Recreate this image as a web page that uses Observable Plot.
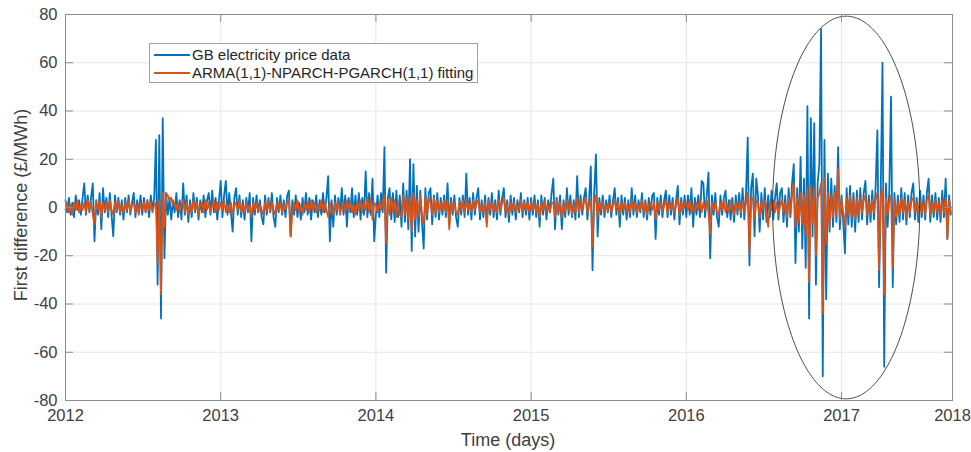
<!DOCTYPE html>
<html>
<head>
<meta charset="utf-8">
<script src="https://cdn.jsdelivr.net/npm/d3@7"></script>
<script src="https://cdn.jsdelivr.net/npm/@observablehq/plot@0.6"></script>
<style>
  html, body { margin: 0; padding: 0; background: #fff; }
  #wrap { position: relative; width: 971px; height: 452px; font-family: "Liberation Sans", Arial, sans-serif; color: #404040; }
  #wrap svg { position: absolute; left: 0; top: 0; }
  .legend { position: absolute; left: 149px; top: 43px; width: 327px; height: 38px; border: 1px solid #a0a0a0; background: #fff; }
  .legend .row { position: absolute; left: 0; height: 18px; width: 100%; }
  .legend .sw { position: absolute; left: 4px; width: 36px; height: 2px; top: 8px; }
  .legend .lab { position: absolute; left: 42px; top: 0; font-size: 15px; line-height: 18px; white-space: nowrap; color: #262626; }
  .ylab { position: absolute; left: 21px; top: 205px; transform: translate(-50%, -50%) rotate(-90deg); font-size: 18px; white-space: nowrap; }
  .xlab { position: absolute; left: 508px; top: 440px; transform: translate(-50%, -50%); font-size: 18px; white-space: nowrap; }
</style>
</head>
<body>
<div id="wrap"></div>
<script>
// ---- tick labels / axes ----
const xTickDays = [0, 365, 730, 1095, 1460, 1825, 2086];
const xTickLabels = ["2012", "2013", "2014", "2015", "2016", "2017", "2018"];
const yTicks = [-80, -60, -40, -20, 0, 20, 40, 60, 80];
const seriesNames = ["GB electricity price data", "ARMA(1,1)-NPARCH-PGARCH(1,1) fitting"];

// segment start days and lengths (one segment per labelled year)
const segStarts = [0, 365, 730, 1095, 1460, 1825];
const segLengths = [365, 365, 365, 365, 365, 261];

// ---- GB electricity price data (first difference, £/MWh), ~4-day samples ----
const blueY2012 = [3,-2,4,-3,2,-4,5,-1,3,-3,4, 10, -3,5,-2,4, 10,-14, 3,-3,6, -9,8, -2,4,-4, 6,-3,-12,
  5,-2,4,-3,3,-5,4,-2,5,-3,2, 6, -4,3,-2,5,-3,4,-2,3,-4,5,-1,4, 28,-32,30,-46,37,-21,
  6,-3,4,-5,3,-2,6,-4,3,-5, 10, -3,5,-6,3,-4,6,-2,4,-5,3,-2,5,-4,3, 6, -3,7,-2,4,-5,3];
const blueY2013 = [11,-4,5,11,-3,6,-2,-10,4,8, -3,5,-4,3,-5,4,-2, 6,-14, 4,-3,5,-2,3,-4, -7, 5,-3,4,-2,6,-4, -8,
  4,-2,5,-3,3,-4,5, 7,-12, 3,-3,5,-4,2,-5,4,-2,6,-3,4,-5,3,-2,5,-4,3,-3,6,-2,4, 13,-14, 3,-8,
  5,-3,4,-2, 8, -3,5, -8, 4,-2, 8, -4,5,-3,6,-5,4,-3, 15, -4,6,-3, 12,-14];
const blueY2014 = [-3,5,-4,6,-2, 25,-27, 4,8,-5,6,-6,7,-4,5, -8,10,-6,7,-9,
  20,-18,18,-12,9,-10,7,-6,-17,8, -5,6,8,-7,5,-4,6,-5,4,-3, 5,-4,10,-7,4,-3,5,-4,-8,4,
  -3,5,-4,14,-3,4,-5,6,-3,4, 8,-5,3,-4,5,-6,4,-3,6,-4, 3,-5,7,-3,4,8,-4,3,-6,5, -3,4,-5,3,-2,6,-4,3,-3,4,-5];
const blueY2015 = [4,-3,5,-4,3, -8, 5,-3,4,-5,3,-2,6, 12,-9, 4,-3,5, -9, 3,-4, 8, -3,5,-4,3,-5, 13, -4,5,-3,4, 8, -5,3,
  17,-26,6,22,-12, 4,-3,5,-4,3,-2,5,-4,3, 8, -3,4, -8, 5,-3,4,-5,3,-4, 8,
  -3,5,-4,3,-2,6,-4,3,-5,4,-3,5, 6,-13, 4,-3,5,-4,3, 7, -4,5,-3,4,-5,3, 9,-7, 4,-3,5];
const blueY2016 = [-4,5,-3, 8,-8, 4,-3,5,-4, 11,10, -4,5, 14.5,-21, 5,-3,6,-4, -8, 5,-3,4, 7, -4,3,-5,4, -6,
  5,-3,6,-4,8,-5, 6,29,-24,8,14,-12,12,5,-10, 6,-5, 8, -6,5,-4,7,-5,4, 10, -5,6, 8, -6,5, -8, 8,-4,10,
  18,-23,8,-10,21,-17,12,-25,42,-46,37,-12,35,-32,10,18,74,-70,28,-38,14,-10,12,-8,9,-6,25,-9];
const blueY2017 = [5,-6,-19,8,-7,9,-8,6,-10,7, -6,8,-5,6,11,-7,5,-6,7,-5, 9,32,-33,8,60,-66,10,-8,7,46,
  -33,6,-7,5,-6,8,-5,6,-7,5, -4,6,10,-5,4,-6,7,-4,5,-5, 6,12,-6,5,-4,6,-5,4,-6,7, -4,12,-13,5,-3];

// ---- ARMA(1,1)-NPARCH-PGARCH(1,1) fitting ----
const orangeY2012 = [-1,2,-2,1,-3,2,-1,3,-2,1,-1, 2,-2,3,-1,2, -3,-7, 2,-1,3,-4,2,-1,2,-2,3,-1,-3,
  2,-1,3,-2,1,-2,2,-1,3,-2,1,2, -2,1,-3,2,-1,2,-2,3,-1,2,-2,1, 2,-23,3,-36,6,-8,
  6,5,3,4,1,2,-1,2,-2,1, 3,-2,2,-3,1,-2,3,-1,2,-3,1,2,-2,3,-1,2,-2,1,3,-2,2,-1];
const orangeY2013 = [2,-1,3,-2,1,-2,2,-3,1,2, -1,3,-2,1,-2,2,-1,1,-4,2, -1,2,-2,1,-1,-3,2,-1,3,-2, 2,-1,-3,2,-1,2,-2,1,-1,2,
  3,-12, -2,2,-1,3,-2,1,-3,2,-1,2, -2,3,-1,2,-2,1,-1,3,-2,2, -1,-4,2,-1,-3,2,-1,2,-3,1,
  2,-2,3,-1,2,-2,1,-3,2,-1, 3,-2,2,-1,4,-2,3,-5,2];
const orangeY2014 = [1,-2,2,-1,3, 5,-15, 3,-3,4,-2,3,-4,2,-3, -4,5,-3,4,-5, 4,-10,6,-5,3,-4,5,-3,-7,4,
  -3,4,2,-3,4,-2,3,-2,2,-1, 3,-2,3,-9,2,-1,2,-2,-3,2, -1,3,-2,3,-1,2,-2,3,-1,2,
  3,-2,1,-2,2,-8,3,-1,2,-2, 1,-2,3,-1,2,4,-2,1,-3,2, -1,2,-2,1,-1,3,-2,2,-1,2,-2];
const orangeY2015 = [2,-1,2,-2,1,-4,2,-1,3,-2, 1,-2,2,2,-4,3,-2,2,-4,1, -2,3,-1,2,-3,1,-2,4,-2,3,
  -1,2,4,-2,1,3,-16,2,5,-4, 2,-1,2,-2,1,-1,2,-2,1,3, -1,2,-3,2,-1,2,-2,1,-2,3,
  -1,2,-2,1,-1,3,-2,2,-3,1, 2,-1,2,-5,2,-1,2,-2,1,3, -2,2,-1,2,-2,1,4,-3,2,-1,2];
const orangeY2016 = [2,-1,3,-2,1,-2,2,-1,3,-2, 2,-1,3,-2,-11,2,-1,2,-2,-3, 2,-1,3,-2,1,-2,3,-1,-3,2,
  -1,2,-2,3,-2,2,6,-19,3,4, -5,3,2,-4,2,-1,3,-2,-8,2, -1,3,-2,2,-3,1,3,-2,2,-4,
  4,-3,5,10,-8,4,-6,6,-7,5, -12,8,-31,9,-6,8,-20,4,6,10, -44,12,-15,6,-8,5,-4,6,-3,16,-5];
const orangeY2017 = [3,-2,-8,4,-3,5,-4,3,-5,4, -3,4,-2,3,5,-3,2,-3,3,-2, 4,6,-26,5,8,-36,4,-3,3,5,
  -25,3,-4,2,-3,4,-2,3,-4,2, -2,3,4,-2,2,-3,3,-2,2,-3, 3,5,-3,2,-2,3,-2,2,-3,3, -2,4,-13,3,-2];

// ---- ellipse annotation (data units) ----
const ellipseCenter = {day: 1836, value: 0};
const ellipseRadii = {day: 173, value: 79.3};

const blueSegs = [blueY2012, blueY2013, blueY2014, blueY2015, blueY2016, blueY2017];
const orangeSegs = [orangeY2012, orangeY2013, orangeY2014, orangeY2015, orangeY2016, orangeY2017];
const toRows = segs => segs.flatMap((vals, s) =>
  vals.map((v, k) => ({day: segStarts[s] + k * segLengths[s] / vals.length, v})));
const blueRows = toRows(blueSegs);
const orangeRows = toRows(orangeSegs);

const ellipsePts = d3.range(0, 361).map(a => {
  const t = a * Math.PI / 180;
  return {day: ellipseCenter.day + ellipseRadii.day * Math.cos(t), v: ellipseCenter.value + ellipseRadii.value * Math.sin(t)};
});

const labelByDay = new Map(xTickDays.map((d, i) => [d, xTickLabels[i]]));
const xInTick = 19;  // inward tick length in days
const yInTick = 3.3; // inward tick length in value units

const chart = Plot.plot({
  width: 971,
  height: 452,
  marginLeft: 65,
  marginRight: 19,
  marginTop: 14,
  marginBottom: 52,
  x: {domain: [0, 2086]},
  y: {domain: [-80, 80]},
  style: {fontFamily: "'Liberation Sans', Arial, sans-serif", fontSize: "16.5px", color: "#404040", background: "transparent"},
  marks: [
    Plot.ruleX(xTickDays, {stroke: "#e6e6e6", strokeWidth: 1}),
    Plot.ruleY(yTicks, {stroke: "#e6e6e6", strokeWidth: 1}),
    Plot.line(blueRows, {x: "day", y: "v", stroke: "#0072BD", strokeWidth: 1.8}),
    Plot.line(orangeRows, {x: "day", y: "v", stroke: "#D95319", strokeWidth: 1.8}),
    Plot.line(ellipsePts, {x: "day", y: "v", stroke: "#333333", strokeWidth: 0.9}),
    Plot.ruleX(xTickDays, {y1: -80, y2: -80 + yInTick, stroke: "#8c8c8c"}),
    Plot.ruleX(xTickDays, {y1: 80, y2: 80 - yInTick, stroke: "#8c8c8c"}),
    Plot.ruleY(yTicks, {x1: 0, x2: xInTick, stroke: "#8c8c8c"}),
    Plot.ruleY(yTicks, {x1: 2086, x2: 2086 - xInTick, stroke: "#8c8c8c"}),
    Plot.frame({stroke: "#8c8c8c", strokeWidth: 1}),
    Plot.axisX(xTickDays, {tickSize: 0, tickPadding: 9, tickFormat: d => labelByDay.get(d), label: null}),
    Plot.axisY(yTicks, {tickSize: 0, tickPadding: 8, tickFormat: d => String(d), label: null})
  ]
});

const wrap = document.getElementById("wrap");
wrap.appendChild(chart);

const legend = document.createElement("div");
legend.className = "legend";
const colors = ["#0072BD", "#D95319"];
seriesNames.forEach((name, i) => {
  const row = document.createElement("div");
  row.className = "row";
  row.style.top = (2 + i * 18) + "px";
  const sw = document.createElement("div");
  sw.className = "sw";
  sw.style.background = colors[i];
  const lab = document.createElement("div");
  lab.className = "lab";
  lab.textContent = name;
  row.appendChild(sw);
  row.appendChild(lab);
  legend.appendChild(row);
});
wrap.appendChild(legend);

const ylab = document.createElement("div");
ylab.className = "ylab";
ylab.textContent = "First difference (£/MWh)";
wrap.appendChild(ylab);

const xlab = document.createElement("div");
xlab.className = "xlab";
xlab.textContent = "Time (days)";
wrap.appendChild(xlab);
</script>
</body>
</html>
